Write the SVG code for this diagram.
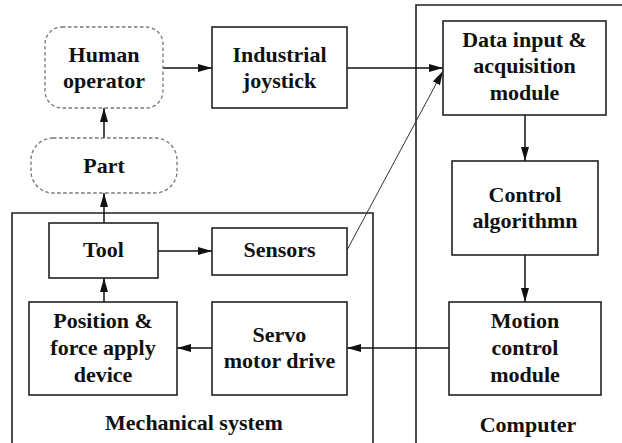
<svg xmlns="http://www.w3.org/2000/svg" width="622" height="443" viewBox="0 0 622 443">
<defs>
<style>
.box{fill:#fff;stroke:#222;stroke-width:1.6}
.dash{fill:#fff;stroke:#777;stroke-width:1.3;stroke-dasharray:3.5,2.5}
.frame{fill:none;stroke:#222;stroke-width:1.6}
.t{font-family:'Liberation Serif','Times New Roman',serif;font-weight:bold;font-size:22px;fill:#111;text-anchor:middle}
.c{stroke:#111;stroke-width:1.5;fill:none;marker-end:url(#ah)}
.thin{stroke:#333;stroke-width:1;fill:none;marker-end:url(#ah)}
</style>
<marker id="ah" viewBox="0 0 14 8" refX="14" refY="4" markerWidth="14" markerHeight="8" markerUnits="userSpaceOnUse" orient="auto">
<path d="M0,0 L14,4 L0,8 Z" fill="#111"/>
</marker>
</defs>
<rect width="622" height="443" fill="#fff"/>
<g id="mechanical-system"><path class="frame" d="M12,443 V213 H373 V443"/><text class="t" x="194" y="430">Mechanical system</text></g>
<g id="computer"><path class="frame" d="M416,443 V5 H622"/><text class="t" x="528" y="432">Computer</text></g>
<g id="connectors">
<line class="c" x1="163" y1="68" x2="212" y2="68"/>
<line class="c" x1="347" y1="68" x2="443" y2="68"/>
<line class="c" x1="104" y1="138" x2="104" y2="108"/>
<line class="c" x1="104" y1="223" x2="104" y2="193"/>
<line class="c" x1="104" y1="302" x2="104" y2="278"/>
<line class="c" x1="158" y1="251" x2="212" y2="251"/>
<line class="thin" x1="347" y1="250" x2="443" y2="71"/>
<line class="c" x1="525" y1="115" x2="525" y2="161"/>
<line class="c" x1="525" y1="255" x2="525" y2="302"/>
<line class="c" x1="449" y1="348" x2="347" y2="348"/>
<line class="c" x1="212" y1="348" x2="177" y2="348"/>
</g>
<g id="human-operator"><rect class="dash" x="45" y="27" width="118" height="81" rx="17"/><text class="t" x="104" y="62">Human</text><text class="t" x="104" y="88">operator</text></g>
<g id="industrial-joystick"><rect class="box" x="212" y="27" width="135" height="81"/><text class="t" x="279.5" y="62">Industrial</text><text class="t" x="279.5" y="88">joystick</text></g>
<g id="part"><rect class="dash" x="31" y="138" width="146" height="55" rx="22"/><text class="t" x="104" y="173">Part</text></g>
<g id="data-input"><rect class="box" x="443" y="21" width="163" height="94"/><text class="t" x="524.5" y="47">Data input &amp;</text><text class="t" x="524.5" y="73">acquisition</text><text class="t" x="524.5" y="100">module</text></g>
<g id="control-algorithm"><rect class="box" x="452" y="161" width="146" height="94"/><text class="t" x="525" y="202">Control</text><text class="t" x="525" y="228">algorithmn</text></g>
<g id="motion-control"><rect class="box" x="449" y="302" width="152" height="93"/><text class="t" x="525" y="328">Motion</text><text class="t" x="525" y="355">control</text><text class="t" x="525" y="382">module</text></g>
<g id="tool"><rect class="box" x="49" y="223" width="109" height="55"/><text class="t" x="103.5" y="257">Tool</text></g>
<g id="sensors"><rect class="box" x="212" y="228" width="135" height="47"/><text class="t" x="279.5" y="257">Sensors</text></g>
<g id="position-force"><rect class="box" x="29" y="302" width="148" height="93"/><text class="t" x="103" y="328">Position &amp;</text><text class="t" x="103" y="355">force apply</text><text class="t" x="103" y="382">device</text></g>
<g id="servo-drive"><rect class="box" x="212" y="302" width="135" height="93"/><text class="t" x="279.5" y="342">Servo</text><text class="t" x="279.5" y="368">motor drive</text></g>
</svg>
